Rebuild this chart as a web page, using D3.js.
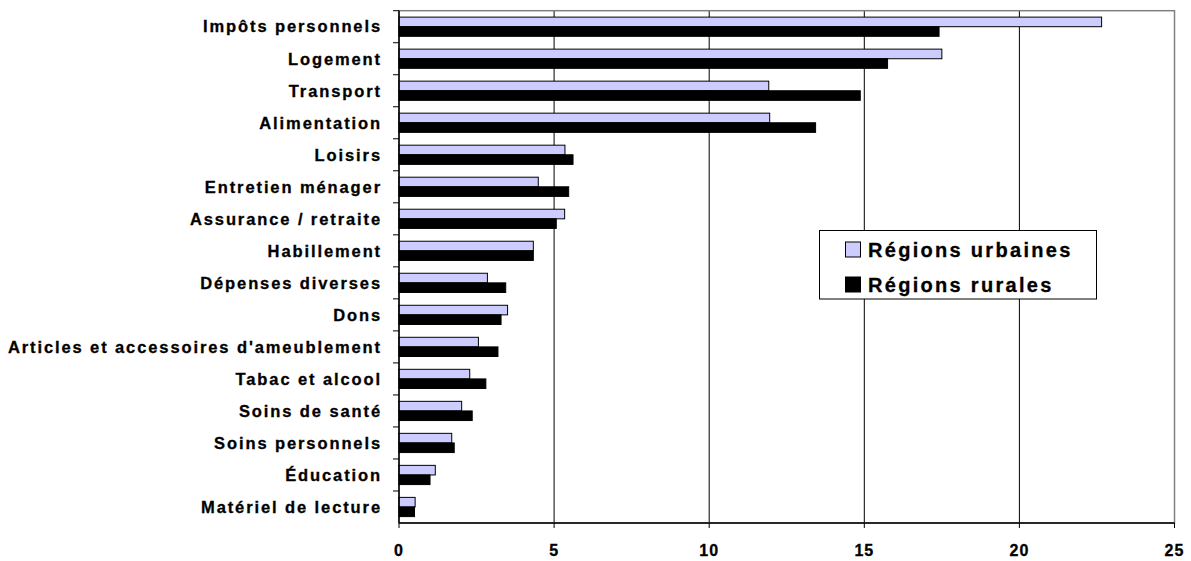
<!DOCTYPE html>
<html>
<head>
<meta charset="utf-8">
<script src="https://cdn.jsdelivr.net/npm/d3@7"></script>
<style>
  body { margin: 0; background: #fff; }
  text { font-family: "Liberation Sans", Arial, sans-serif; font-weight: bold; }
</style>
</head>
<body>
<script>
var categories = ["Impôts personnels", "Logement", "Transport", "Alimentation", "Loisirs",
  "Entretien ménager", "Assurance / retraite", "Habillement", "Dépenses diverses", "Dons",
  "Articles et accessoires d'ameublement", "Tabac et alcool", "Soins de santé",
  "Soins personnels", "Éducation", "Matériel de lecture"]
var urbaines = [22.65, 17.5, 11.92, 11.95, 5.35, 4.49, 5.34, 4.33, 2.85, 3.5, 2.56, 2.28, 2.02, 1.7, 1.17, 0.52]
var rurales  = [17.41, 15.75, 14.87, 13.43, 5.61, 5.47, 5.07, 4.33, 3.44, 3.29, 3.19, 2.8, 2.36, 1.78, 1.0, 0.5]
var series = ["Régions urbaines", "Régions rurales"]
var colors = ["#ccccff", "#000000"]
var xTicks = [0, 5, 10, 15, 20, 25]

var W = 1191, H = 561
var pL = 399, pR = 1174.5, pT = 10.7, pB = 523

var svg = d3.select("body").append("svg")
  .attr("width", W).attr("height", H)

var x = d3.scaleLinear().domain([0, 25]).range([pL, pR])
var y = d3.scaleBand().domain(categories).range([pT, pB]).paddingInner(0.4).paddingOuter(0.2)
var y0 = d3.scaleBand().domain(categories).range([pT, pB])
var sub = d3.scaleBand().domain([0, 1]).range([0, y.bandwidth()])

// grid
svg.selectAll(".grid").data(xTicks.slice(1, -1)).enter()
  .append("line")
  .attr("x1", function(d) { return x(d) }).attr("x2", function(d) { return x(d) })
  .attr("y1", pT).attr("y2", pB)
  .attr("stroke", "#000").attr("stroke-width", 1)

// plot border
svg.append("rect")
  .attr("x", pL).attr("y", pT)
  .attr("width", pR - pL).attr("height", pB - pT)
  .attr("fill", "none").attr("stroke", "#808080").attr("stroke-width", 1.5)

var groups = svg.selectAll(".cat").data(categories).enter()
  .append("g")
  .attr("transform", function(d) { return "translate(0," + y(d) + ")" })

groups.append("rect")
  .attr("x", x(0))
  .attr("y", sub(0))
  .attr("width", function(d, i) { return x(urbaines[i]) - x(0) })
  .attr("height", sub.bandwidth())
  .attr("fill", colors[0]).attr("stroke", "#000").attr("stroke-width", 1)

groups.append("rect")
  .attr("x", x(0))
  .attr("y", sub(1))
  .attr("width", function(d, i) { return x(rurales[i]) - x(0) })
  .attr("height", sub.bandwidth())
  .attr("fill", colors[1]).attr("stroke", "#000").attr("stroke-width", 1)

// y axis
svg.append("line")
  .attr("x1", pL).attr("x2", pL).attr("y1", pT).attr("y2", pB)
  .attr("stroke", "#000").attr("stroke-width", 1.5)

svg.selectAll(".ytick").data(categories).enter()
  .append("line")
  .attr("x1", pL - 6).attr("x2", pL)
  .attr("y1", function(d) { return y0(d) }).attr("y2", function(d) { return y0(d) })
  .attr("stroke", "#000")

svg.selectAll(".ylab").data(categories).enter()
  .append("text")
  .attr("x", 382)
  .attr("y", function(d) { return y0(d) + y0.bandwidth() / 2 })
  .attr("dy", "0.35em")
  .attr("text-anchor", "end")
  .attr("font-size", "16.5px")
  .attr("letter-spacing", "1.9px")
  .attr("fill", "#000")
  .attr("stroke", "#000").attr("stroke-width", 0.3)
  .text(function(d) { return d })

// x axis
svg.append("line")
  .attr("x1", pL).attr("x2", pR).attr("y1", pB).attr("y2", pB)
  .attr("stroke", "#000").attr("stroke-width", 1.5)

svg.selectAll(".xtick").data(xTicks).enter()
  .append("line")
  .attr("x1", function(d) { return x(d) }).attr("x2", function(d) { return x(d) })
  .attr("y1", pB).attr("y2", pB + 5)
  .attr("stroke", "#000")

svg.selectAll(".xlab").data(xTicks).enter()
  .append("text")
  .attr("x", function(d) { return x(d) })
  .attr("y", 556)
  .attr("text-anchor", "middle")
  .attr("font-size", "16px")
  .attr("letter-spacing", "1px")
  .attr("fill", "#000")
  .attr("stroke", "#000").attr("stroke-width", 0.3)
  .text(function(d) { return d })

// legend
var lg = svg.append("g")
lg.append("rect")
  .attr("x", 819.5).attr("y", 230.5).attr("width", 277).attr("height", 68.5)
  .attr("fill", "#fff").attr("stroke", "#000").attr("stroke-width", 1)

series.forEach(function(s, i) {
  var cy = 249.5 + i * 35
  lg.append("rect")
    .attr("x", 845.5).attr("y", cy - 7.5).attr("width", 15).attr("height", 15)
    .attr("fill", colors[i]).attr("stroke", "#000").attr("stroke-width", 1)
  lg.append("text")
    .attr("x", 868).attr("y", cy)
    .attr("dy", "0.36em")
    .attr("font-size", "20px")
    .attr("letter-spacing", "2.3px")
    .attr("stroke", "#000").attr("stroke-width", 0.3)
    .text(s)
})
</script>
</body>
</html>
